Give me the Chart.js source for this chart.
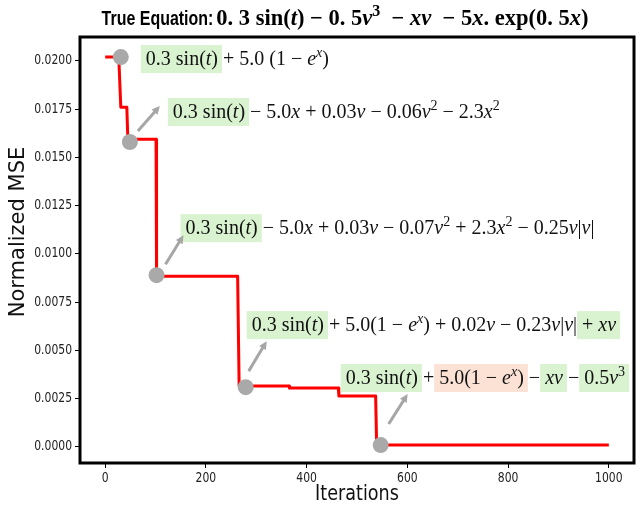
<!DOCTYPE html>
<html>
<head>
<meta charset="utf-8">
<script src="https://cdn.jsdelivr.net/npm/chart.js"></script>
<style>
  html, body { margin: 0; padding: 0; background: #fff; }
  #c { display: block; }
</style>
</head>
<body>
<canvas id="c" width="642" height="506"></canvas>
<script>
// best normalized MSE found so far
const iterations = [0, 27, 31, 43, 45, 101, 102, 263, 266, 365, 366, 463, 464, 537, 539, 1000];
const mse = [0.0202, 0.0202, 0.0176, 0.0176, 0.01594, 0.01594, 0.00885, 0.00885, 0.00316, 0.00316, 0.00305, 0.00305, 0.00264, 0.00264, 0.0001, 0.0001];

// iterations where a new equation was picked up
const markerIters = [31, 49, 102, 279, 547];
const markerMse = [0.0202, 0.0158, 0.0089, 0.0031, 0.0001];

const xTicks = [0, 200, 400, 600, 800, 1000];
const yTicks = [0, 0.0025, 0.005, 0.0075, 0.01, 0.0125, 0.015, 0.0175, 0.02];

// equation found at each marker; g = green (right term), o = orange (wrong term)
const equations = [
    [['0.3 sin(t)', 'g'], [' + 5.0 (1 − e^x)', null]],
    [['0.3 sin(t)', 'g'], [' − 5.0x + 0.03v − 0.06v^2 − 2.3x^2', null]],
    [['0.3 sin(t)', 'g'], [' − 5.0x + 0.03v − 0.07v^2 + 2.3x^2 − 0.25v|v|', null]],
    [['0.3 sin(t)', 'g'], [' + 5.0(1 − e^x) + 0.02v − 0.23v|v| ', null], ['+ xv', 'g']],
    [['0.3 sin(t)', 'g'], [' + ', null], ['5.0(1 − e^x)', 'o'], [' − ', null], ['xv', 'g'], [' − ', null], ['0.5v^3', 'g']]
];
// text and arrow placement relative to each marker (px)
const labelPos = [
    { dx: 25, dy: 8, arrow: null },
    { dx: 43, dy: -24, arrow: [8, -11, 30, -36] },
    { dx: 29, dy: -41, arrow: [9, -11, 27, -40] },
    { dx: 6, dy: -56, arrow: [3, -16, 21, -46] },
    { dx: -35, dy: -61, arrow: [8, -21, 27, -51] }
];

const boxColors = { g: '#d9f2d0', o: '#fbe2d5' };
const SERIF = '"Liberation Serif", "DejaVu Serif", serif';
const SQUEEZE = 0.8;   // the figure's sans text is horizontally condensed

function tokenize(str) {
    const out = [];
    let i = 0;
    while (i < str.length) {
        if (str.startsWith('sin', i) || str.startsWith('exp', i)) {
            out.push({ s: str.substr(i, 3), it: false, sup: false });
            i += 3;
        } else if (str[i] === '^') {
            const c = str[i + 1];
            out.push({ s: c, it: /[a-z]/.test(c), sup: true });
            i += 2;
        } else {
            const c = str[i];
            out.push({ s: c, it: /[a-z]/.test(c), sup: false });
            i += 1;
        }
    }
    return out;
}

function fontFor(tok, size, bold) {
    const sz = tok.sup ? Math.round(size * 0.7) : size;
    return (tok.it ? 'italic ' : '') + (bold ? 'bold ' : '') + sz + 'px ' + SERIF;
}

function mathWidth(ctx, str, size, bold) {
    let w = 0;
    tokenize(str).forEach(t => {
        ctx.font = fontFor(t, size, bold);
        w += ctx.measureText(t.s).width;
    });
    return w;
}

function drawMath(ctx, str, x, y, size, bold) {
    tokenize(str).forEach(t => {
        ctx.font = fontFor(t, size, bold);
        ctx.fillText(t.s, x, t.sup ? y - size * 0.42 : y);
        x += ctx.measureText(t.s).width;
    });
    return x;
}

// sans text squeezed horizontally (sx) around its anchor
function squeezedText(ctx, txt, x, y, font, align, sx, rot) {
    ctx.save();
    ctx.translate(x, y);
    if (rot) ctx.rotate(rot);
    ctx.scale(sx, 1);
    ctx.font = font;
    ctx.textAlign = align;
    ctx.fillText(txt, 0, 0);
    ctx.restore();
}

function drawArrow(ctx, x1, y1, x2, y2) {
    const ang = Math.atan2(y2 - y1, x2 - x1);
    const head = 9;
    ctx.strokeStyle = '#a6a6a6';
    ctx.fillStyle = '#a6a6a6';
    ctx.lineWidth = 3;
    ctx.beginPath();
    ctx.moveTo(x1, y1);
    ctx.lineTo(x2 - Math.cos(ang) * head * 0.8, y2 - Math.sin(ang) * head * 0.8);
    ctx.stroke();
    ctx.beginPath();
    ctx.moveTo(x2, y2);
    ctx.lineTo(x2 - head * Math.cos(ang - 0.45), y2 - head * Math.sin(ang - 0.45));
    ctx.lineTo(x2 - head * Math.cos(ang + 0.45), y2 - head * Math.sin(ang + 0.45));
    ctx.closePath();
    ctx.fill();
}

const decor = {
    id: 'decor',
    afterDraw(chart) {
        const ctx = chart.ctx;
        const a = chart.chartArea;
        const xs = chart.scales.x, ys = chart.scales.y;
        ctx.save();

        // frame
        ctx.strokeStyle = '#000';
        ctx.lineWidth = 3;
        ctx.strokeRect(a.left, a.top, a.right - a.left, a.bottom - a.top);

        // tick labels
        ctx.fillStyle = '#222';
        ctx.textBaseline = 'middle';
        const tf = '13.5px "DejaVu Sans"';
        xTicks.forEach(v => squeezedText(ctx, v.toFixed(0), xs.getPixelForValue(v), a.bottom + 15, tf, 'center', SQUEEZE));
        yTicks.forEach(v => squeezedText(ctx, v.toFixed(4), a.left - 8, ys.getPixelForValue(v), tf, 'right', SQUEEZE));

        // axis titles
        ctx.fillStyle = '#111';
        const af = '22px "DejaVu Sans"';
        squeezedText(ctx, 'Iterations', (a.left + a.right) / 2, 494, af, 'center', SQUEEZE);
        squeezedText(ctx, 'Normalized MSE', 19, 232, '21px "DejaVu Sans"', 'center', 1, -Math.PI / 2);

        // title: condensed bold sans head + bold math
        const head = 'True Equation:';
        const trueEq = '0. 3 sin(t) − 0. 5v^3  − xv  − 5x. exp(0. 5x)';
        const squeeze = 0.76;
        ctx.textAlign = 'left';
        ctx.textBaseline = 'alphabetic';
        ctx.font = 'bold 21px "Liberation Sans"';
        const hw = ctx.measureText(head).width * squeeze;
        const mw = mathWidth(ctx, trueEq, 22.5, true);
        const tx = 345 - (hw + 3 + mw) / 2;
        ctx.fillStyle = '#000';
        squeezedText(ctx, head, tx, 25, 'bold 21px "Liberation Sans"', 'left', squeeze);
        ctx.textAlign = 'left';
        drawMath(ctx, trueEq, tx + hw + 3, 25, 22.5, true);

        // annotations
        equations.forEach((parts, k) => {
            const px = xs.getPixelForValue(markerIters[k]);
            const py = ys.getPixelForValue(markerMse[k]);
            const pos = labelPos[k];
            let x = px + pos.dx;
            const y = py + pos.dy;
            parts.forEach(([txt, bg]) => {
                const w = mathWidth(ctx, txt, 20, false);
                if (bg) {
                    ctx.fillStyle = boxColors[bg];
                    ctx.fillRect(x - 5, y - 20, w + 9, 28);
                }
                ctx.fillStyle = '#111';
                drawMath(ctx, txt, x, y, 20, false);
                x += w;
            });
            if (pos.arrow) {
                const [x1, y1, x2, y2] = pos.arrow;
                drawArrow(ctx, px + x1, py + y1, px + x2, py + y2);
            }
        });
        ctx.restore();
    }
};

new Chart(document.getElementById('c'), {
    type: 'line',
    data: {
        datasets: [
            {
                data: iterations.map((v, i) => ({ x: v, y: mse[i] })),
                borderColor: '#ff0000',
                borderWidth: 3,
                borderJoinStyle: 'round',
                pointRadius: 0,
                fill: false,
                tension: 0,
                order: 2
            },
            {
                data: markerIters.map((v, i) => ({ x: v, y: markerMse[i] })),
                showLine: false,
                pointRadius: 8,
                pointHoverRadius: 8,
                pointBackgroundColor: '#a9a9a9',
                pointBorderWidth: 0,
                order: 1
            }
        ]
    },
    options: {
        responsive: false,
        animation: false,
        devicePixelRatio: 1,
        layout: { padding: { top: 37, right: 2, left: 0, bottom: 0 } },
        plugins: { legend: { display: false }, tooltip: { enabled: false } },
        scales: {
            x: {
                type: 'linear',
                min: -50,
                max: 1050,
                afterBuildTicks: s => { s.ticks = xTicks.map(v => ({ value: v })); },
                afterFit: s => { s.height = 43; },
                ticks: { display: false },
                grid: { drawOnChartArea: false, tickLength: 5, color: '#000' },
                border: { display: false }
            },
            y: {
                type: 'linear',
                min: -0.00083,
                max: 0.02124,
                afterBuildTicks: s => { s.ticks = yTicks.map(v => ({ value: v })); },
                afterFit: s => { s.width = 80; },
                ticks: { display: false },
                grid: { drawOnChartArea: false, tickLength: 5, color: '#000' },
                border: { display: false }
            }
        }
    },
    plugins: [decor]
});
</script>
</body>
</html>
